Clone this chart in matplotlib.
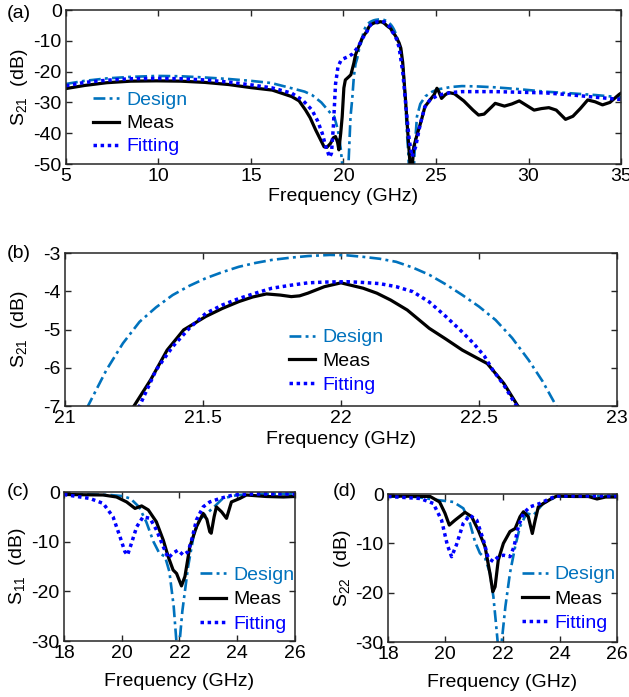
import numpy as np
import matplotlib
matplotlib.use("Agg")
import matplotlib.pyplot as plt

plt.rcParams['font.family'] = ['Liberation Sans', 'DejaVu Sans']
plt.rcParams['mathtext.fontset'] = 'custom'
plt.rcParams['mathtext.rm'] = 'Liberation Sans'
plt.rcParams['mathtext.it'] = 'Liberation Sans:italic'
plt.rcParams['axes.unicode_minus'] = False
plt.rcParams['font.size'] = 14

# S21 (dB) vs. frequency (GHz), wideband sweep; the same traces feed the zoomed panel
s21_design_f = [5.0, 6.0, 7.2, 8.5, 9.9, 11.2, 12.5, 13.8, 15.0, 16.1, 17.2, 17.9, 18.3, 18.8,
                19.0, 19.3, 19.5, 19.7, 19.85, 19.93, 20.05, 20.2, 20.27, 20.38, 20.47, 20.56,
                20.65, 20.74, 20.85, 21.0, 21.084, 21.15, 21.21, 21.27, 21.33, 21.39, 21.45,
                21.51, 21.57, 21.63, 21.69, 21.75, 21.82, 21.88, 21.96, 22.02, 22.08, 22.14,
                22.2, 22.26, 22.32, 22.38, 22.44, 22.5, 22.56, 22.62, 22.68, 22.73, 22.78,
                22.9, 23.0, 23.15, 23.3, 23.43, 23.5, 23.56, 23.78, 23.85, 23.97, 24.15,
                24.43, 24.8, 25.15, 25.8, 26.4, 27.2, 28.2, 29.5, 30.9, 32.2, 33.6, 34.9, 35.0]
s21_design_db = [-24.0, -23.0, -22.2, -21.7, -21.4, -21.5, -21.9, -22.4, -23.0, -23.7, -25.4,
                 -26.5, -27.6, -30.0, -31.4, -33.5, -34.6, -39.0, -45.0, -50.0, -56.0, -56.0,
                 -50.0, -34.6, -29.0, -21.6, -17.5, -15.7, -12.5, -9.7, -6.99, -6.06, -5.36,
                 -4.8, -4.42, -4.1, -3.86, -3.66, -3.5, -3.36, -3.26, -3.18, -3.12, -3.08,
                 -3.05, -3.06, -3.1, -3.15, -3.23, -3.38, -3.57, -3.82, -4.1, -4.4, -4.75,
                 -5.22, -5.8, -6.35, -7.0, -9.0, -10.5, -15.0, -24.0, -40.0, -46.0, -55.0,
                 -55.0, -45.0, -34.6, -30.5, -28.0, -26.5, -25.7, -25.0, -24.7, -24.8, -25.1,
                 -25.7, -26.5, -27.0, -27.6, -28.3, -28.3]

s21_meas_f = [5.0, 6.0, 7.2, 8.5, 9.9, 11.2, 12.5, 13.8, 15.0, 16.15, 17.2, 17.6, 17.95, 18.2,
              18.5, 18.75, 18.95, 19.1, 19.3, 19.45, 19.57, 19.68, 19.75, 19.85, 19.93, 20.02,
              20.1, 20.3, 20.4, 20.56, 20.65, 20.8, 20.9, 21.0, 21.1, 21.25, 21.31, 21.37,
              21.43, 21.51, 21.57, 21.63, 21.68, 21.73, 21.78, 21.82, 21.85, 21.88, 21.94,
              22.0, 22.08, 22.13, 22.18, 22.24, 22.32, 22.38, 22.44, 22.53, 22.59, 22.64,
              22.72, 22.8, 23.0, 23.1, 23.2, 23.35, 23.5, 23.62, 23.7, 23.8, 24.0, 24.2, 24.4,
              24.7, 24.9, 25.05, 25.15, 25.3, 25.5, 25.7, 26.0, 26.5, 27.0, 27.3, 27.6, 28.0,
              28.2, 28.7, 29.1, 29.5, 29.9, 30.3, 30.7, 31.1, 31.5, 32.0, 32.4, 32.8, 33.2,
              33.6, 34.0, 34.4, 34.9, 35.0]
s21_meas_db = [-25.5, -24.5, -23.6, -23.1, -23.0, -23.1, -23.5, -24.2, -25.2, -26.0, -28.1,
               -29.5, -32.5, -35.0, -39.0, -42.0, -44.4, -44.6, -43.3, -41.5, -41.1, -43.0,
               -45.4, -40.0, -34.6, -25.3, -22.7, -21.6, -21.0, -17.2, -14.5, -12.2, -10.8,
               -9.2, -8.3, -7.0, -6.32, -5.54, -5.01, -4.66, -4.45, -4.27, -4.15, -4.07, -4.1,
               -4.14, -4.12, -4.05, -3.88, -3.78, -3.92, -4.05, -4.23, -4.49, -4.97, -5.25,
               -5.54, -5.89, -6.41, -6.99, -7.6, -8.3, -10.6, -12.4, -17.0, -29.0, -42.0,
               -52.0, -52.0, -44.4, -40.0, -36.0, -31.4, -29.0, -27.5, -25.4, -26.5, -28.7,
               -27.5, -26.8, -27.2, -29.5, -32.5, -34.1, -33.8, -31.5, -30.3, -31.2, -30.5,
               -29.5, -31.0, -32.5, -32.0, -31.7, -32.5, -35.5, -34.5, -32.0, -29.2, -29.8,
               -30.8, -30.0, -27.4, -27.0]

s21_fit_f = [5.0, 6.0, 7.2, 8.5, 9.9, 11.2, 12.5, 13.8, 15.0, 16.15, 17.2, 17.8, 18.3, 18.6,
             18.85, 19.05, 19.25, 19.35, 19.45, 19.57, 19.7, 19.85, 20.0, 20.3, 20.5, 20.8,
             21.0, 21.15, 21.27, 21.33, 21.39, 21.45, 21.51, 21.57, 21.63, 21.69, 21.75, 21.82,
             21.88, 21.94, 22.02, 22.08, 22.14, 22.2, 22.26, 22.32, 22.38, 22.43, 22.48, 22.52,
             22.55, 22.59, 22.63, 22.7, 22.85, 23.0, 23.2, 23.4, 23.55, 23.7, 23.9, 24.15,
             24.4, 24.7, 25.15, 25.8, 26.4, 28.2, 30.9, 32.2, 33.6, 34.9, 35.0]
s21_fit_db = [-24.6, -23.5, -22.8, -22.3, -22.2, -22.3, -22.7, -23.4, -24.3, -25.3, -27.0,
              -29.3, -32.5, -36.0, -40.0, -44.5, -47.8, -46.5, -38.0, -24.0, -18.5, -16.5,
              -15.8, -15.0, -14.2, -11.9, -9.5, -8.0, -7.0, -6.06, -5.45, -4.97, -4.58, -4.36,
              -4.19, -4.05, -3.92, -3.84, -3.78, -3.76, -3.75, -3.77, -3.8, -3.88, -4.01,
              -4.28, -4.66, -5.0, -5.36, -5.7, -6.06, -6.45, -6.93, -7.6, -9.2, -12.0, -20.0,
              -33.0, -42.0, -47.6, -44.4, -37.0, -31.4, -29.0, -27.6, -26.8, -26.5, -26.5,
              -26.9, -27.5, -28.3, -29.0, -29.0]

# S11 (dB)
s11_design_f = [18.0, 19.0, 19.6, 20.0, 20.3, 20.6, 20.85, 21.1, 21.3, 21.5, 21.65, 21.8, 21.9,
                21.95, 22.0, 22.1, 22.3, 22.5, 22.7, 22.95, 23.2, 23.5, 24.0, 25.0, 26.0]
s11_design_db = [-0.5, -0.5, -0.6, -0.8, -1.3, -3.0, -6.0, -10.0, -12.3, -13.0, -16.0, -23.0,
                 -30.5, -33.0, -30.5, -24.0, -15.0, -8.5, -5.5, -4.3, -3.0, -1.3, -0.6, -0.4,
                 -0.4]
s11_meas_f = [18.0, 19.36, 19.82, 20.17, 20.46, 20.69, 20.92, 21.2, 21.44, 21.61, 21.78, 21.9,
              22.07, 22.19, 22.36, 22.59, 22.82, 22.95, 23.05, 23.1, 23.2, 23.28, 23.46, 23.63,
              23.8, 24.09, 24.32, 25.0, 25.6, 26.0]
s11_meas_db = [-0.5, -0.6, -1.0, -2.0, -3.3, -2.8, -3.6, -6.0, -9.7, -13.0, -15.7, -16.4, -18.9,
               -17.0, -11.0, -7.0, -4.3, -5.5, -8.0, -8.3, -5.0, -3.0, -4.0, -5.3, -2.0, -1.3,
               -0.6, -0.9, -1.0, -0.9]
s11_fit_f = [18.0, 18.9, 19.36, 19.7, 19.94, 20.11, 20.2, 20.3, 20.52, 20.74, 20.98, 21.2,
             21.44, 21.61, 21.78, 21.95, 22.13, 22.3, 22.42, 22.59, 22.82, 23.05, 23.4, 23.86,
             24.5, 26.0]
s11_fit_db = [-0.5, -1.3, -2.3, -5.0, -9.0, -12.0, -12.7, -11.0, -7.0, -5.0, -5.3, -7.6, -11.0,
              -13.3, -12.3, -11.7, -12.7, -12.0, -9.7, -5.6, -3.0, -2.0, -1.3, -0.6, -0.4, -0.4]

# S22 (dB)
s22_design_f = [18.0, 19.0, 19.7, 20.28, 20.63, 20.86, 21.04, 21.21, 21.39, 21.56, 21.68, 21.77,
                21.83, 21.9, 21.97, 22.1, 22.26, 22.44, 22.61, 22.84, 23.08, 23.42, 23.9, 26.0]
s22_design_db = [-0.5, -0.6, -1.2, -1.6, -2.9, -5.9, -9.7, -12.0, -13.0, -16.0, -20.8, -26.2,
                 -30.0, -33.0, -30.0, -22.8, -16.0, -10.7, -6.6, -3.9, -4.3, -1.9, -0.5, -0.4]
s22_meas_f = [18.0, 19.47, 19.8, 19.99, 20.14, 20.34, 20.69, 20.92, 21.15, 21.39, 21.56, 21.66,
              21.74, 21.85, 22.03, 22.26, 22.44, 22.61, 22.73, 22.9, 23.04, 23.14, 23.25, 23.43,
              23.72, 23.9, 24.5, 25.0, 25.3, 25.6, 26.0]
s22_meas_db = [-0.4, -0.5, -1.6, -3.9, -6.3, -5.3, -3.7, -4.6, -7.3, -10.7, -16.1, -19.8, -18.8,
               -13.4, -10.0, -7.6, -7.0, -4.6, -3.6, -4.6, -8.0, -5.3, -2.6, -1.9, -0.9, -0.4,
               -0.5, -0.5, -1.0, -0.6, -0.6]
s22_fit_f = [18.0, 19.12, 19.58, 19.87, 20.07, 20.22, 20.39, 20.63, 20.86, 21.1, 21.33, 21.5,
             21.68, 21.85, 22.03, 22.26, 22.4, 22.55, 22.73, 22.96, 23.31, 23.66, 23.9, 26.0]
s22_fit_db = [-0.5, -0.9, -1.9, -5.3, -10.3, -12.7, -10.3, -5.9, -4.3, -5.3, -9.3, -13.0, -13.7,
              -12.7, -12.4, -12.7, -10.7, -6.6, -3.9, -2.6, -1.9, -0.9, -0.4, -0.4]

C_DESIGN = '#0072BD'
C_MEAS = 'black'
C_FIT = '#0000FF'
AX_COLOR = '#262626'
FS = 14


def style_axes(ax, xlim, ylim, xticks, yticks):
    ax.set_xlim(*xlim)
    ax.set_ylim(*ylim)
    ax.set_xticks(xticks)
    ax.set_yticks(yticks)
    ax.tick_params(direction='in', top=True, right=True, length=4, width=1,
                   color=AX_COLOR, labelsize=FS, pad=3)
    for sp in ax.spines.values():
        sp.set_linewidth(1.1)
        sp.set_color(AX_COLOR)


def draw_traces(ax, design, meas, fit, legend_xy, spacing=0.28):
    ax.plot(design[0], design[1], color=C_DESIGN, lw=1.9, ls=(0, (4.5, 1.6, 1.1, 1.6)),
            label='Design')
    ax.plot(meas[0], meas[1], color=C_MEAS, lw=2.3, solid_joinstyle='round', label='Meas')
    ax.plot(fit[0], fit[1], color=C_FIT, lw=2.5, ls=(0, (1, 1.05)), label='Fitting')
    ax.legend(loc='upper left', bbox_to_anchor=legend_xy, frameon=False, borderpad=0,
              borderaxespad=0, handlelength=1.35, handletextpad=0.35, labelspacing=spacing,
              labelcolor='linecolor', fontsize=FS)


fig = plt.figure(figsize=(6.29, 6.97), dpi=100)
ax_a = fig.add_axes([0.1049, 0.7647, 0.8824, 0.2209])
ax_b = fig.add_axes([0.1033, 0.4175, 0.8776, 0.2195])
ax_c = fig.add_axes([0.1017, 0.0803, 0.3672, 0.2138])
ax_d = fig.add_axes([0.6169, 0.0789, 0.3641, 0.2123])

s21 = ((s21_design_f, s21_design_db), (s21_meas_f, s21_meas_db), (s21_fit_f, s21_fit_db))

# (a) wideband S21
draw_traces(ax_a, *s21, legend_xy=(0.049, 0.47))
style_axes(ax_a, (5, 35), (-50, 0), [5, 10, 15, 20, 25, 30, 35], [-50, -40, -30, -20, -10, 0])
ax_a.set_ylabel('S$_{21}$  (dB)')
ax_a.set_xlabel('Frequency (GHz)', labelpad=2)

# (b) passband close-up
draw_traces(ax_b, *s21, legend_xy=(0.406, 0.505), spacing=0.32)
style_axes(ax_b, (21, 23), (-7, -3), [21, 21.5, 22, 22.5, 23], [-7, -6, -5, -4, -3])
ax_b.set_xticklabels(['21', '21.5', '22', '22.5', '23'])
ax_b.set_ylabel('S$_{21}$  (dB)')
ax_b.set_xlabel('Frequency (GHz)', labelpad=3)

# (c) S11
draw_traces(ax_c, (s11_design_f, s11_design_db), (s11_meas_f, s11_meas_db),
            (s11_fit_f, s11_fit_db), legend_xy=(0.589, 0.50), spacing=0.34)
style_axes(ax_c, (18, 26), (-30, 0), [18, 20, 22, 24, 26], [-30, -20, -10, 0])
ax_c.set_ylabel('S$_{11}$  (dB)')
ax_c.set_xlabel('Frequency (GHz)', labelpad=8)

# (d) S22
draw_traces(ax_d, (s22_design_f, s22_design_db), (s22_meas_f, s22_meas_db),
            (s22_fit_f, s22_fit_db), legend_xy=(0.584, 0.515), spacing=0.34)
style_axes(ax_d, (18, 26), (-30, 0), [18, 20, 22, 24, 26], [-30, -20, -10, 0])
ax_d.set_ylabel('S$_{22}$  (dB)')
ax_d.set_xlabel('Frequency (GHz)', labelpad=8)

for ax in (ax_a, ax_b):
    ax.yaxis.set_label_coords(-0.064, 0.5)
for ax in (ax_c, ax_d):
    ax.yaxis.set_label_coords(-0.155, 0.5)

fig.text(7 / 629, 1 - 13 / 697, '(a)', ha='left', va='center', fontsize=FS)
fig.text(7 / 629, 1 - 253 / 697, '(b)', ha='left', va='center', fontsize=FS)
fig.text(7 / 629, 1 - 492 / 697, '(c)', ha='left', va='center', fontsize=FS)
fig.text(333 / 629, 1 - 492 / 697, '(d)', ha='left', va='center', fontsize=FS)

fig.savefig('out.png', dpi=100)
